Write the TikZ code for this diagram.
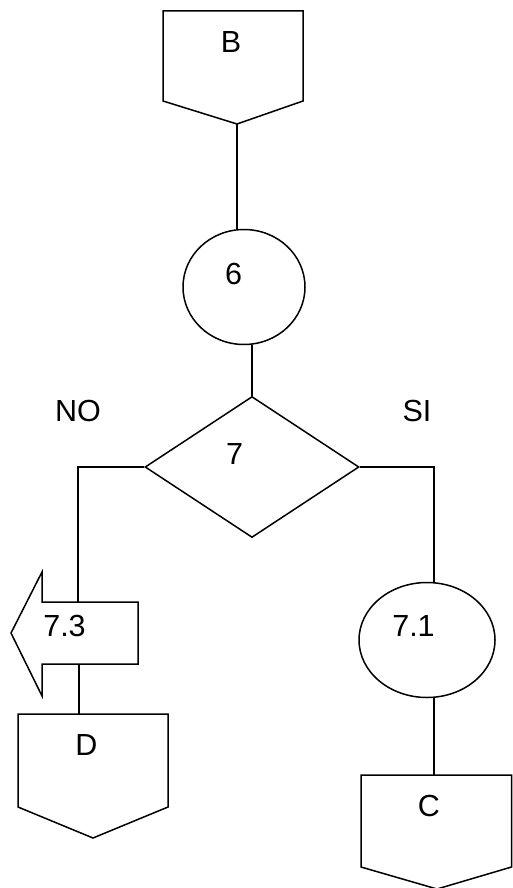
\documentclass[tikz,border=0pt]{standalone}
\usepackage{fontspec}
\setmainfont{Liberation Sans}
\usetikzlibrary{shapes.geometric}
\tikzset{
	shp/.style={draw, line width=1.5pt, inner sep=0pt},
	lbl/.style={inner sep=0pt, font=\fontsize{30.5}{36}\selectfont},
	ln/.style={line width=1.5pt},
}

\begin{document}
\begin{tikzpicture}[x=1pt,y=-1pt]
	\clip (0,0) rectangle (513,888);

	% off-page connectors
	\draw [ln] (163,11) -- (303,11) -- (303,101) -- (237,124) -- (163,101) -- cycle;
	\draw [ln] (18,714) -- (168,714) -- (168,807) -- (93,838) -- (18,807) -- cycle;
	\draw [ln] (361,775) -- (511.5,775) -- (511.5,867) -- (437,889) -- (361,867) -- cycle;
	\coordinate (B-tip) at (237,124);
	\coordinate (D-top) at (79,714);
	\coordinate (C-top) at (434,775);

	% arrow 7.3
	\draw [ln] (138,602) -- (42,602) -- (42,572) -- (11,633) -- (42,696) -- (42,664) -- (138,664) -- cycle;
	\coordinate (a73-top) at (78,602);
	\coordinate (a73-bot) at (79,664);

	\node (c6) [shp, ellipse, minimum width=122pt, minimum height=115pt] at (244,287) {};
	\node (d7) [shp, diamond, minimum width=214pt, minimum height=141pt] at (252,467) {};
	\node (e71) [shp, ellipse, minimum width=136pt, minimum height=115pt] at (427,640) {};
	\coordinate (no) at (78,467);
	\coordinate (si) at (434,467);

	\node (B-t) [lbl] at (231,42) {B};
	\node (c6-t) [lbl] at (233.5,273.5) {6};
	\node (d7-t) [lbl] at (234.5,454.5) {7};
	\node (no-t) [lbl] at (78,411) {NO};
	\node (si-t) [lbl] at (417,411) {SI};
	\node (a73-t) [lbl] at (64.5,626) {7.3};
	\node (e71-t) [lbl] at (413.5,626) {7.1};
	\node (D-t) [lbl] at (86.5,744.5) {D};
	\node (C-t) [lbl] at (429,806) {C};

	\draw [ln] (B-tip) -- (B-tip |- c6.north);
	\draw [ln] (c6.south -| d7.north) -- (d7.north);
	\draw [ln] (d7.west) -- (no) -- (a73-top);
	\draw [ln] (a73-bot) -- (D-top);
	\draw [ln] (d7.east) -- (si) -- (si |- e71.north);
	\draw [ln] (si |- e71.south) -- (C-top);
\end{tikzpicture}
\end{document}
